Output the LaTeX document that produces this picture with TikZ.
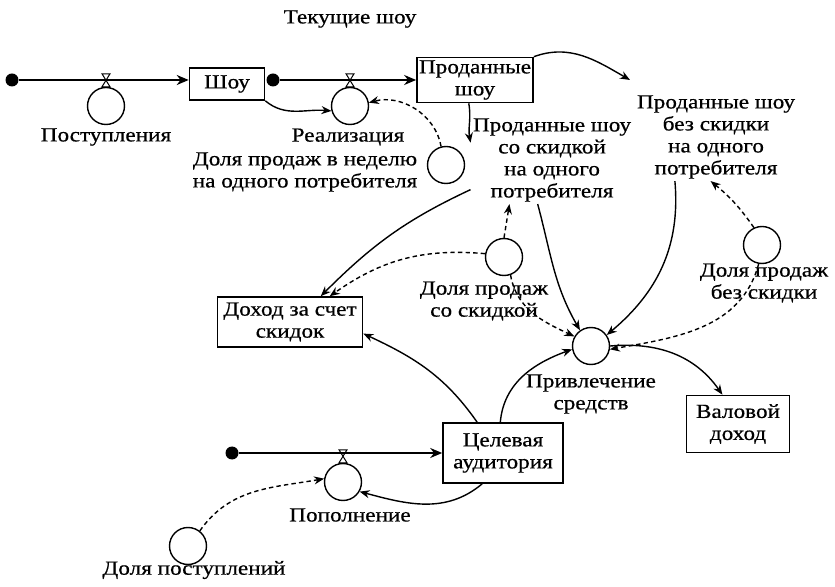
\documentclass[tikz,border=0pt]{standalone}
\usepackage{fontspec}
\setmainfont{Liberation Serif}[FakeStretch=1.16, FakeBold=0.6]
\usetikzlibrary{arrows.meta}

\begin{document}
\begin{tikzpicture}[x=0.5pt, y=0.5pt,
  font=\fontsize{10}{11}\selectfont,
  stock/.style={draw, line width=0.8pt, align=center, inner sep=1pt},
  aux/.style={draw, circle, line width=0.7pt, minimum size=18.5pt, inner sep=0pt},
  src/.style={circle, fill, inner sep=0pt, minimum size=6.5pt},
  txt/.style={align=center, inner sep=1pt},
  flow/.style={line width=1.4pt, -{Stealth[length=6pt,width=5pt]}},
  link/.style={line width=0.7pt, -{Stealth[length=5pt,width=4pt]}},
  info/.style={link, dash pattern=on 2.2pt off 1.6pt}
]
  \useasboundingbox (0,0) rectangle (835,-587);

  \node[txt] (current) at (350,-19) {Текущие шоу};

  \node[src] (src1) at (12,-80) {};
  \node[src] (src2) at (273,-80) {};
  \node[src] (src3) at (232,-453) {};

  \node[stock, minimum width=37.5pt, minimum height=16pt] (shows) at (227,-84) {Шоу};
  \node[stock, minimum width=57pt, minimum height=22.5pt] (sold) at (475,-80) {Проданные\\шоу};
  \node[stock, minimum width=72.5pt, minimum height=25pt] (disc) at (290,-322) {Доход за счет\\скидок};
  \node[stock, minimum width=51.5pt, minimum height=28.5pt] (gross) at (738,-424) {Валовой\\доход};
  \node[stock, minimum width=60pt, minimum height=30pt] (target) at (503,-453) {Целевая\\аудитория};

  \node[aux] (inflow) at (106,-106) {};
  \node[aux] (sale) at (350,-106) {};
  \node[aux] (saleFrac) at (446,-165) {};
  \node[aux] (discFrac) at (504,-257) {};
  \node[aux] (fullFrac) at (762,-245) {};
  \node[aux] (attract) at (591,-346) {};
  \node[aux] (refill) at (343,-482) {};
  \node[aux] (refillFrac) at (188,-546) {};

  \node[txt] (lInflow) at (106,-137) {Поступления};
  \node[txt] (lSale) at (348,-137) {Реализация};
  \node[txt] (lSaleFrac) at (305,-172) {Доля продаж в неделю\\на одного потребителя};
  \node[txt] (lDiscFrac) at (484,-301) {Доля продаж\\со скидкой};
  \node[txt] (lFullFrac) at (764,-283) {Доля продаж\\без скидки};
  \node[txt] (lAttract) at (591,-394) {Привлечение\\средств};
  \node[txt] (lRefill) at (350,-515) {Пополнение};
  \node[txt] (lRefillFrac) at (194,-570) {Доля поступлений};
  \node[txt] (soldDisc) at (552,-160) {Проданные шоу\\со скидкой\\на одного\\потребителя};
  \node[txt] (soldFull) at (716,-137) {Проданные шоу\\без скидки\\на одного\\потребителя};
  \coordinate (soldFullIn) at (630,-80);

  \draw[flow] (src1) -- (src1 -| shows.west);
  \draw[flow] (src2) -- (src2 -| sold.west);
  \draw[flow] (src3) -- (src3 -| target.west);
  \foreach \v in {inflow,sale,refill}
    \draw[line width=0.5pt] ([shift={(-4,13)}]\v.north) -- ([shift={(4,13)}]\v.north)
      -- ([shift={(-4,0)}]\v.north) -- ([shift={(4,0)}]\v.north) -- cycle;

  \draw[link] (shows.south east) to[out=-40,in=175] (sale.195);
  \draw[info] (saleFrac.105) to[out=100,in=15] (sale.10);
  \draw[link] (sold.north east) to[out=20,in=150] (soldFullIn);
  \draw[link] (sold.255) to[out=-80,in=100] (soldDisc.168);
  \draw[link] (soldDisc.200) to[out=205,in=45] (disc.40);
  \draw[info] (discFrac.170) to[out=175,in=35] (disc.33);
  \draw[info] (discFrac.north) -- (soldDisc.226);
  \draw[info] (discFrac.-70) to[out=-80,in=155] (attract.150);
  \draw[link] (soldDisc.252) to[out=-75,in=120] (attract.125);
  \draw[link] (soldFull.227) to[out=-85,in=40] (attract.35);
  \draw[info] (fullFrac.115) to[bend right=8] (soldFull.263);
  \draw[info] (fullFrac.-100) to[out=-105,in=10] (attract.-10);
  \draw[link] (attract.east) to[out=5,in=125] (gross.118);
  \draw[link] (target.130) to[out=125,in=-25] (disc.-9);
  \draw[link] (target.95) to[out=85,in=200] (attract.190);
  \draw[link] (target.236) to[out=-140,in=-15] (refill.-30);
  \draw[info] (refillFrac.52) to[out=55,in=190] (refill.170);
\end{tikzpicture}
\end{document}
